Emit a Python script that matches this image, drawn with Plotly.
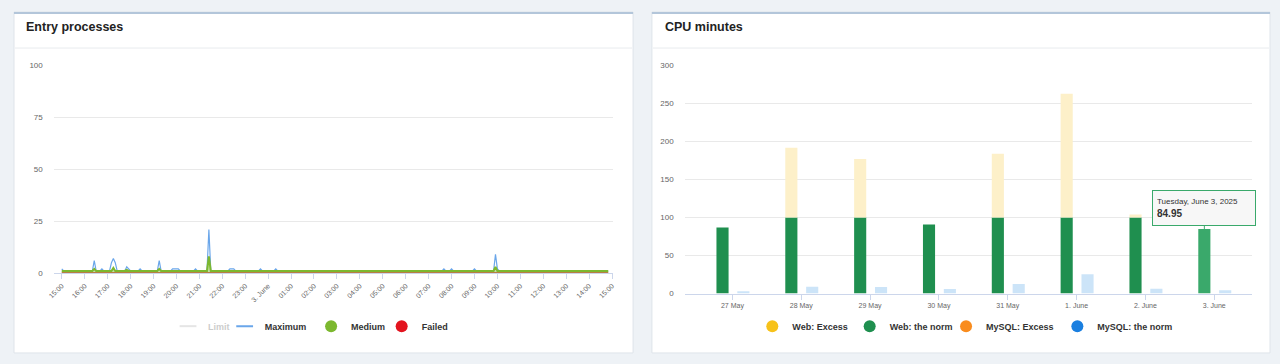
import plotly.graph_objects as go

# The page keeps the browser's 8px body margin, so the figure is sized to fill
# the 1280x364 window exactly inside it; placements are given in window pixels.
WIN_W, WIN_H = 1280, 364
PAGE_MARGIN = 8
W, H = WIN_W - 2 * PAGE_MARGIN, WIN_H - 2 * PAGE_MARGIN
PAGE_BG = "#eef2f6"


def px(x):
    return (x - PAGE_MARGIN) / W


def py(y):
    return 1 - (y - PAGE_MARGIN) / H


# ---------------- Entry processes (left) ----------------
max_times = [
    "2025-06-02 15:00", "2025-06-02 15:05",
    "2025-06-02 16:20", "2025-06-02 16:25", "2025-06-02 16:30",
    "2025-06-02 16:40", "2025-06-02 16:45", "2025-06-02 16:50",
    "2025-06-02 17:05", "2025-06-02 17:10", "2025-06-02 17:15", "2025-06-02 17:20", "2025-06-02 17:25",
    "2025-06-02 17:45", "2025-06-02 17:50", "2025-06-02 17:55", "2025-06-02 18:00",
    "2025-06-02 18:20", "2025-06-02 18:25", "2025-06-02 18:30",
    "2025-06-02 19:10", "2025-06-02 19:15", "2025-06-02 19:20",
    "2025-06-02 19:45", "2025-06-02 19:50", "2025-06-02 19:55", "2025-06-02 20:00", "2025-06-02 20:05", "2025-06-02 20:10",
    "2025-06-02 20:45", "2025-06-02 20:50", "2025-06-02 20:55",
    "2025-06-02 21:20", "2025-06-02 21:25", "2025-06-02 21:30",
    "2025-06-02 22:15", "2025-06-02 22:20", "2025-06-02 22:25", "2025-06-02 22:30", "2025-06-02 22:35",
    "2025-06-02 23:35", "2025-06-02 23:40", "2025-06-02 23:45",
    "2025-06-03 00:15", "2025-06-03 00:20", "2025-06-03 00:25",
    "2025-06-03 07:35", "2025-06-03 07:40", "2025-06-03 07:45",
    "2025-06-03 07:55", "2025-06-03 08:00", "2025-06-03 08:05",
    "2025-06-03 08:55", "2025-06-03 09:00", "2025-06-03 09:05",
    "2025-06-03 09:50", "2025-06-03 09:55", "2025-06-03 10:00", "2025-06-03 10:05",
    "2025-06-03 14:50",
]
max_values = [
    2, 1,
    1, 6, 1,
    1, 2, 1,
    1, 5, 7, 5, 1,
    1, 3, 2, 1,
    1, 2, 1,
    1, 6, 1,
    1, 2, 2, 2, 2, 1,
    1, 2, 1,
    1, 21, 1,
    1, 2, 2, 2, 1,
    1, 2, 1,
    1, 2, 1,
    1, 2, 1,
    1, 2, 1,
    1, 2, 1,
    1, 9, 2, 1,
    1,
]

med_times = [
    "2025-06-02 15:00",
    "2025-06-02 16:20", "2025-06-02 16:25", "2025-06-02 16:30",
    "2025-06-02 17:10", "2025-06-02 17:15", "2025-06-02 17:20",
    "2025-06-02 17:45", "2025-06-02 17:50", "2025-06-02 17:55",
    "2025-06-02 19:10", "2025-06-02 19:15", "2025-06-02 19:20",
    "2025-06-02 21:20", "2025-06-02 21:25", "2025-06-02 21:30",
    "2025-06-03 09:50", "2025-06-03 09:55", "2025-06-03 10:00",
    "2025-06-03 14:50",
]
med_values = [
    1,
    1, 2, 1,
    1, 2.5, 1,
    1, 1.5, 1,
    1, 2, 1,
    1, 8, 1,
    1, 3, 1,
    1,
]

failed_times = ["2025-06-02 15:00", "2025-06-03 14:50"]
failed_values = [0, 0]

limit_times = ["2025-06-02 15:00", "2025-06-03 14:50"]
limit_values = [100, 100]

hour_ticks = [
    "2025-06-02 15:00", "2025-06-02 16:00", "2025-06-02 17:00", "2025-06-02 18:00",
    "2025-06-02 19:00", "2025-06-02 20:00", "2025-06-02 21:00", "2025-06-02 22:00",
    "2025-06-02 23:00", "2025-06-03 00:00", "2025-06-03 01:00", "2025-06-03 02:00",
    "2025-06-03 03:00", "2025-06-03 04:00", "2025-06-03 05:00", "2025-06-03 06:00",
    "2025-06-03 07:00", "2025-06-03 08:00", "2025-06-03 09:00", "2025-06-03 10:00",
    "2025-06-03 11:00", "2025-06-03 12:00", "2025-06-03 13:00", "2025-06-03 14:00",
    "2025-06-03 15:00",
]
hour_labels = [
    "15:00", "16:00", "17:00", "18:00", "19:00", "20:00", "21:00", "22:00", "23:00",
    "3. June", "01:00", "02:00", "03:00", "04:00", "05:00", "06:00", "07:00", "08:00",
    "09:00", "10:00", "11:00", "12:00", "13:00", "14:00", "15:00",
]
entry_yticks = [0, 25, 50, 75, 100]

# ---------------- CPU minutes (right) ----------------
cpu_days = ["27 May", "28 May", "29 May", "30 May", "31 May", "1. June", "2. June", "3. June"]
web_norm = [87, 100, 100, 91, 100, 100, 100, 84.95]
web_excess = [0, 92, 77, 0, 84, 163, 4, 0]
mysql_excess = [0, 0, 0, 0, 0, 0, 0, 0]
mysql_norm = [3, 9, 8.5, 6, 12.5, 25.5, 6.3, 4.2]
cpu_yticks = [0, 50, 100, 150, 200, 250, 300]

hover_day = "3. June"
hover_date_text = "Tuesday, June 3, 2025"
hover_value = web_norm[cpu_days.index(hover_day)]

# ---------------- styles ----------------
FONT = "Liberation Sans, Arial, sans-serif"
C_MAX = "#6aa6ea"
C_MED = "#7cb82f"
C_FAIL = "#e3141f"
C_LIMIT = "#cccccc"
C_WEB_EX = "#f7c21a"
C_WEB_EX_FADED = "#fdf0c9"
C_WEB_NORM = "#1f8f4f"
C_WEB_NORM_HOVER = "#3aa96b"
C_SQL_EX = "#f98c1e"
C_SQL_NORM = "#1a7fe0"
C_SQL_NORM_FADED = "#cce4f8"
AXIS = "#ccd6eb"
GRID = "#e9e9e9"

fig = go.Figure()

# left traces
fig.add_trace(go.Scatter(x=limit_times, y=limit_values, mode="lines", name="Limit",
                         line=dict(color=C_LIMIT, width=1.5), visible="legendonly",
                         legendgroup="limit", showlegend=False, xaxis="x", yaxis="y"))
fig.add_trace(go.Scatter(x=failed_times, y=failed_values, mode="lines", name="Failed",
                         line=dict(color=C_FAIL, width=1.5), legendgroup="failed",
                         showlegend=False, xaxis="x", yaxis="y"))
fig.add_trace(go.Scatter(x=max_times, y=max_values, mode="lines", name="Maximum",
                         line=dict(color=C_MAX, width=1.2), legendgroup="max",
                         showlegend=False, xaxis="x", yaxis="y"))
fig.add_trace(go.Scatter(x=med_times, y=med_values, mode="lines", name="Medium",
                         line=dict(color=C_MED, width=2), fill="tozeroy",
                         fillcolor="rgba(124,184,47,0.45)", legendgroup="med",
                         showlegend=False, xaxis="x", yaxis="y"))

# right traces
bar_w = 0.176
fig.add_trace(go.Bar(x=cpu_days, y=web_norm, name="Web: the norm", width=bar_w, offset=-0.232,
                     marker=dict(color=[C_WEB_NORM_HOVER if d == hover_day else C_WEB_NORM for d in cpu_days],
                                 line=dict(width=0)),
                     legendgroup="wn", showlegend=False, xaxis="x2", yaxis="y2"))
fig.add_trace(go.Bar(x=cpu_days, y=web_excess, base=web_norm, name="Web: Excess", width=bar_w, offset=-0.232,
                     marker=dict(color=C_WEB_EX_FADED, line=dict(width=0)),
                     legendgroup="we", showlegend=False, xaxis="x2", yaxis="y2"))
fig.add_trace(go.Bar(x=cpu_days, y=mysql_norm, name="MySQL: the norm", width=bar_w, offset=0.071,
                     marker=dict(color=C_SQL_NORM_FADED, line=dict(width=0)),
                     legendgroup="sn", showlegend=False, xaxis="x2", yaxis="y2"))
fig.add_trace(go.Bar(x=cpu_days, y=mysql_excess, base=mysql_norm, name="MySQL: Excess", width=bar_w, offset=0.071,
                     marker=dict(color=C_SQL_EX, line=dict(width=0)),
                     legendgroup="se", showlegend=False, xaxis="x2", yaxis="y2"))

# legend entries (one legend per item for exact placement); symbol centre x given
LEG_Y = 330.5
legend_items = [
    # name, group, kind, color, symbol centre x, legend id, legendonly
    ("Limit", "limit", "line", C_LIMIT, 183, "legend", True),
    ("Maximum", "max", "line", C_MAX, 240, "legend2", False),
    ("Medium", "med", "dot", C_MED, 327, "legend3", False),
    ("Failed", "failed", "dot", C_FAIL, 398, "legend4", False),
    ("Web: Excess", "we", "dot", C_WEB_EX, 771, "legend5", False),
    ("Web: the norm", "wn", "dot", C_WEB_NORM, 869, "legend6", False),
    ("MySQL: Excess", "se", "dot", C_SQL_EX, 966, "legend7", False),
    ("MySQL: the norm", "sn", "dot", C_SQL_NORM, 1078, "legend8", False),
]
legend_layouts = {}
for name, grp, kind, col, cx, lid, lonly in legend_items:
    if kind == "line":
        mk = dict(symbol="line-ew", size=13, line=dict(color=col, width=1.5), color=col)
    else:
        mk = dict(symbol="circle", size=8, color=col)
    right = cx > 640
    fig.add_trace(go.Scatter(x=[None], y=[None], mode="markers", name=name, marker=mk,
                             legendgroup=grp, legend=lid,
                             visible="legendonly" if lonly else True,
                             xaxis="x2" if right else "x", yaxis="y2" if right else "y"))
    legend_layouts[lid] = dict(
        x=px(cx - 20), y=py(LEG_Y), xanchor="left", yanchor="middle",
        orientation="h", bgcolor="rgba(0,0,0,0)", borderwidth=0,
        font=dict(family=FONT, size=9, color="#999999" if lonly else "#333333", weight="bold"),
        itemsizing="constant",
    )

# cards and headers
shapes = []
for x0, x1 in [(8, 631), (650, 1272)]:
    shapes.append(dict(type="rect", xref="paper", yref="paper", x0=px(x0), x1=px(x1), y0=py(358), y1=py(8),
                       fillcolor="white", line=dict(color="#dfe4ea", width=1), layer="below"))
    shapes.append(dict(type="rect", xref="paper", yref="paper", x0=px(x0), x1=px(x1), y0=py(10), y1=py(8),
                       fillcolor="#b3c6da", line=dict(width=0), layer="below"))
    shapes.append(dict(type="line", xref="paper", yref="paper", x0=px(x0 + 1), x1=px(x1 - 1), y0=py(45), y1=py(45),
                       line=dict(color="#e8ebee", width=1), layer="below"))

annotations = [
    dict(text="<b>Entry processes</b>", xref="paper", yref="paper", x=px(18), y=py(23.5),
         xanchor="left", yanchor="middle", showarrow=False,
         font=dict(family=FONT, size=12.5, color="#222222")),
    dict(text="<b>CPU minutes</b>", xref="paper", yref="paper", x=px(661), y=py(23.5),
         xanchor="left", yanchor="middle", showarrow=False,
         font=dict(family=FONT, size=12.5, color="#222222")),
    dict(text=f"<span style='font-size:8px'>{hover_date_text}</span><br><b>{hover_value:.2f}</b>",
         xref="x2", yref="y2", x=cpu_days.index(hover_day) - 0.232 + bar_w / 2, y=hover_value,
         showarrow=True, arrowhead=0, arrowwidth=1, arrowcolor=C_WEB_NORM_HOVER, ax=0, ay=-21,
         align="left", width=94, height=26, borderpad=4,
         bgcolor="rgba(247,247,247,0.96)", bordercolor=C_WEB_NORM_HOVER, borderwidth=1,
         font=dict(family=FONT, size=10, color="#333333")),
]

tickfont = dict(family=FONT, size=8, color="#666666")
layout = dict(
    width=W, height=H, margin=dict(l=0, r=0, t=0, b=0), autosize=False,
    paper_bgcolor=PAGE_BG, plot_bgcolor="rgba(0,0,0,0)",
    barmode="overlay", showlegend=True,
    shapes=shapes, annotations=annotations,
    xaxis=dict(domain=[px(48), px(611)], anchor="y", type="date",
               range=["2025-06-02 14:39", "2025-06-03 15:03"],
               tickmode="array", tickvals=hour_ticks, ticktext=hour_labels, tickangle=-45,
               tickfont=dict(family=FONT, size=7, color="#666666"),
               ticks="outside", ticklen=5, tickcolor=AXIS, showline=True, linecolor=AXIS, linewidth=1,
               showgrid=False, zeroline=False, fixedrange=True),
    yaxis=dict(domain=[py(276), py(63)], anchor="x", range=[0, 100], tickmode="array", tickvals=entry_yticks,
               gridcolor=GRID, showline=False, zeroline=False, tickfont=tickfont,
               ticklabelstandoff=10, fixedrange=True),
    xaxis2=dict(domain=[px(683), px(1254)], anchor="y2", type="category", categoryorder="array",
                categoryarray=cpu_days, range=[-0.693, 7.55],
                tickfont=dict(family=FONT, size=7, color="#666666"),
                ticks="outside", ticklen=5, tickcolor=AXIS, showline=True, linecolor=AXIS, linewidth=1,
                showgrid=False, zeroline=False, tickangle=0, fixedrange=True),
    yaxis2=dict(domain=[py(297), py(63)], anchor="x2", range=[0, 300], tickmode="array", tickvals=cpu_yticks,
                gridcolor=GRID, showline=False, zeroline=False, tickfont=tickfont,
                ticklabelstandoff=10, fixedrange=True),
)
layout.update(legend_layouts)
fig.update_layout(**layout)

fig.write_html(
    "out.html", config={"displayModeBar": False},
    post_script=(
        f"document.documentElement.style.background='{PAGE_BG}';"
        f"document.body.style.background='{PAGE_BG}';"
    ),
)
